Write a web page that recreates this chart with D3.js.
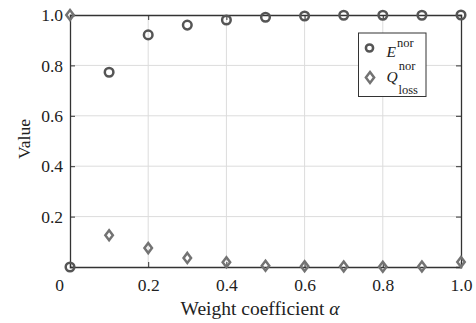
<!DOCTYPE html>
<html>
<head>
<meta charset="utf-8">
<script src="https://cdn.jsdelivr.net/npm/d3@7"></script>
<style>
  body { margin: 0; background: #fff; }
  svg { display: block; font-family: "Liberation Serif", "DejaVu Serif", serif; }
  .grid line { stroke: #dcdcdc; stroke-width: 1; }
  .axis path, .axis line { stroke: #333; }
</style>
</head>
<body>
<div id="chart"></div>
<script>
// weight coefficient alpha
var alphas = [0, 0.1, 0.2, 0.3, 0.4, 0.5, 0.6, 0.7, 0.8, 0.9, 1.0];
// normalised values
var eNor = [0, 0.773, 0.921, 0.960, 0.980, 0.991, 0.996, 0.999, 0.999, 0.999, 1.0];
var qLoss = [1.0, 0.126, 0.075, 0.036, 0.019, 0.005, 0.003, 0.002, 0.001, 0.002, 0.02];
var xTicks = [0, 0.2, 0.4, 0.6, 0.8, 1.0];
var yTicks = [0.2, 0.4, 0.6, 0.8, 1.0];

var chartWidth = 476, chartHeight = 323;
var margin = {top: 15, right: 15, bottom: 56, left: 70};
var width = chartWidth - margin.left - margin.right,
    height = chartHeight - margin.top - margin.bottom;

var svg = d3.select("#chart").append("svg")
    .attr("width", chartWidth).attr("height", chartHeight);

var x = d3.scaleLinear().domain([0, 1]).range([0, width]);
var y = d3.scaleLinear().domain([0, 1]).range([height, 0]);

var g = svg.append("g").attr("transform", "translate(" + margin.left + "," + margin.top + ")");

// grid
g.append("g").attr("class", "grid")
    .selectAll("line.v").data(xTicks.slice(1, -1)).enter().append("line")
    .attr("x1", function (d) { return x(d); }).attr("x2", function (d) { return x(d); })
    .attr("y1", 0).attr("y2", height);
g.append("g").attr("class", "grid")
    .selectAll("line.h").data(yTicks.slice(0, -1)).enter().append("line")
    .attr("x1", 0).attr("x2", width)
    .attr("y1", function (d) { return y(d); }).attr("y2", function (d) { return y(d); });

var fmt = function (d) { return d === 0 ? "0" : d3.format(".1f")(d); };

// axes, ticks pointing inward
var xAxis = g.append("g").attr("class", "axis")
    .attr("transform", "translate(0," + height + ")")
    .call(d3.axisBottom(x).tickValues(xTicks).tickSize(-5).tickPadding(12).tickFormat(fmt));
xAxis.selectAll("text").filter(function (d) { return d === 0; }).attr("dx", -11);

g.append("g").attr("class", "axis")
    .call(d3.axisLeft(y).tickValues(yTicks).tickSize(-5).tickPadding(7).tickFormat(fmt));

g.append("g").attr("class", "axis")
    .call(d3.axisTop(x).tickValues(xTicks).tickSize(-5).tickFormat(""));
g.append("g").attr("class", "axis")
    .attr("transform", "translate(" + width + ",0)")
    .call(d3.axisRight(y).tickValues(yTicks).tickSize(-5).tickFormat(""));
g.selectAll(".axis").attr("font-family", null).attr("font-size", null);
g.selectAll(".axis path").attr("stroke-width", 1.3);
g.selectAll(".axis text")
    .style("font-family", "'Liberation Serif', serif")
    .style("font-size", "17.5px").attr("fill", "#222");

// axis titles
svg.append("text")
    .attr("x", 260).attr("y", 315)
    .attr("text-anchor", "middle").style("font-size", "19.5px").attr("fill", "#222")
    .html('Weight coefficient <tspan font-style="italic">α</tspan>');
svg.append("text")
    .attr("transform", "translate(30,139) rotate(-90)")
    .attr("text-anchor", "middle").style("font-size", "17.5px").attr("fill", "#222")
    .text("Value");

// markers
var diamond = function (s) {
    return "M0," + (-s) + "L" + (s * 0.75) + ",0L0," + s + "L" + (-s * 0.75) + ",0Z";
};

var pts = alphas.map(function (a, i) { return {a: a, e: eNor[i], q: qLoss[i]}; });

g.selectAll(".q").data(pts).enter().append("path")
    .attr("class", "q")
    .attr("transform", function (d) { return "translate(" + x(d.a) + "," + y(d.q) + ")"; })
    .attr("d", diamond(5))
    .attr("fill", "none").attr("stroke", "#737373").attr("stroke-width", 2.5);

g.selectAll(".e").data(pts).enter().append("circle")
    .attr("class", "e")
    .attr("cx", function (d) { return x(d.a); })
    .attr("cy", function (d) { return y(d.e); })
    .attr("r", 4.3)
    .attr("fill", "none").attr("stroke", "#555").attr("stroke-width", 2.5);

// legend
var lg = svg.append("g").attr("transform", "translate(358.5,33)");
lg.append("rect").attr("width", 67.5).attr("height", 63.5)
    .attr("fill", "#fff").attr("stroke", "#333").attr("stroke-width", 1);
lg.append("circle").attr("cx", 11).attr("cy", 15).attr("r", 3.6)
    .attr("fill", "none").attr("stroke", "#555").attr("stroke-width", 2.5);
lg.append("path").attr("transform", "translate(11.5,44.5)").attr("d", diamond(5.5))
    .attr("fill", "none").attr("stroke", "#737373").attr("stroke-width", 2.5);
lg.append("text").attr("x", 28).attr("y", 23.5).style("font-size", "15.5px").attr("fill", "#222")
    .html('<tspan font-style="italic">E</tspan><tspan dx="1" dy="-9.5" font-size="12.5px">nor</tspan>');
lg.append("text").attr("x", 28).attr("y", 49).style("font-size", "15.5px").attr("fill", "#222")
    .html('<tspan font-style="italic">Q</tspan><tspan dx="1" dy="-12.5" font-size="12.5px">nor</tspan><tspan x="40" dy="24.5" font-size="12.5px">loss</tspan>');
</script>
</body>
</html>
